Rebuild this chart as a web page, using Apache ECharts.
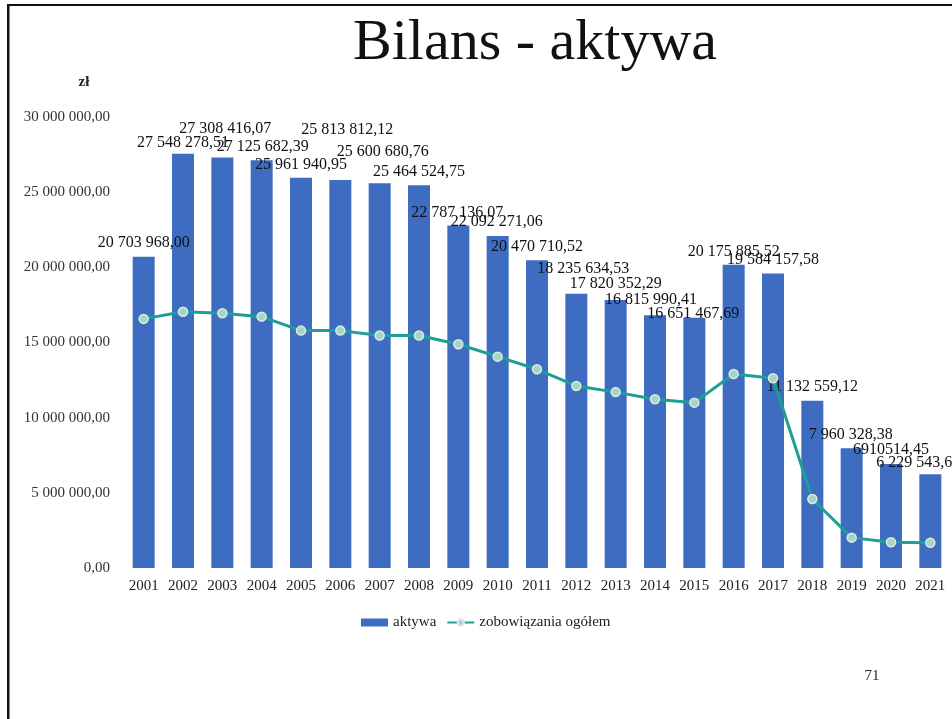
<!DOCTYPE html>
<html>
<head>
<meta charset="utf-8">
<script src="https://cdn.jsdelivr.net/npm/echarts@6/dist/echarts.min.js"></script>
<style>
  * { margin: 0; padding: 0; }
  body { background: #fff; }
  #chart { width: 952px; height: 719px; }
</style>
</head>
<body>
<div id="chart"></div>
<script>
// lata
const years = ['2001', '2002', '2003', '2004', '2005', '2006', '2007', '2008', '2009', '2010', '2011',
  '2012', '2013', '2014', '2015', '2016', '2017', '2018', '2019', '2020', '2021'];
// aktywa (zł)
const aktywa = [20703968.00, 27548278.51, 27308416.07, 27125682.39, 25961940.95, 25813812.12,
  25600680.76, 25464524.75, 22787136.07, 22092271.06, 20470710.52, 18235634.53, 17820352.29,
  16815990.41, 16651467.69, 20175885.52, 19584157.58, 11132559.12, 7960328.38, 6910514.45, 6229543.66];
// zobowiązania ogółem
const zobowiazania = [16570000, 17050000, 16950000, 16720000, 15790000, 15790000, 15460000, 15460000,
  14880000, 14060000, 13220000, 12110000, 11700000, 11220000, 11000000, 12900000, 12620000,
  4590000, 2020000, 1710000, 1680000];
// podziałka osi Y
const yTicks = [0, 5000000, 10000000, 15000000, 20000000, 25000000, 30000000];

// przesunięcia etykiet (jak na slajdzie)
const labelNudge = [[0, -1], [0, 2], [3, -16], [1, 0], [0, 0], [7, -37], [3, -18], [0, 0], [-1, 0],
  [-1, -1], [0, 0], [7, -12], [0, -3], [-4, -2], [-1, 9], [0, 0], [0, -1], [0, -1], [-1, -1], [0, -1], [-12, 1]];

const FONT = '"Liberation Serif", "Times New Roman", serif';

function fmt(v, group) {
  let s = v.toFixed(2).split('.');
  let int = s[0];
  if (group) int = int.replace(/\B(?=(\d{3})+(?!\d))/g, ' ');
  return int + ',' + s[1];
}

var chart = echarts.init(document.getElementById('chart'));

let barData = aktywa.map((v, i) => ({
  value: v,
  label: {
    offset: labelNudge[i],
    formatter: () => fmt(v, years[i] !== '2020')
  }
}));

chart.setOption({
  backgroundColor: '#fff',
  animation: false,
  title: {
    text: 'Bilans - aktywa',
    left: 348,
    top: 10,
    textStyle: { fontFamily: FONT, fontSize: 58, fontWeight: 'normal', color: '#111' }
  },
  graphic: [
    { type: 'rect', shape: { x: 7, y: 4, width: 950, height: 2 }, style: { fill: '#111' } },
    { type: 'rect', shape: { x: 7, y: 4, width: 2.5, height: 720 }, style: { fill: '#111' } },
    { type: 'text', style: { x: 84, y: 82, text: 'zł', textAlign: 'center', textVerticalAlign: 'middle',
        font: 'bold 15px ' + FONT, fill: '#222' } },
    { type: 'text', style: { x: 872, y: 676, text: '71', textAlign: 'center', textVerticalAlign: 'middle',
        font: '15px ' + FONT, fill: '#222' } }
  ],
  legend: {
    left: 356,
    top: 610,
    itemGap: 10,
    itemWidth: 27,
    itemHeight: 8,
    textStyle: { fontFamily: FONT, fontSize: 15, color: '#222' },
    data: [
      { name: 'aktywa', icon: 'rect' },
      { name: 'zobowiązania ogółem' }
    ]
  },
  grid: { left: 124, right: 2, top: 117, bottom: 151 },
  xAxis: {
    type: 'category',
    data: years,
    axisLine: { show: false },
    axisTick: { show: false },
    axisLabel: { fontFamily: FONT, fontSize: 15, color: '#222', margin: 11, interval: 0 }
  },
  yAxis: {
    type: 'value',
    min: yTicks[0],
    max: yTicks[yTicks.length - 1],
    interval: yTicks[1] - yTicks[0],
    splitLine: { show: false },
    axisLine: { show: false },
    axisTick: { show: false },
    axisLabel: { fontFamily: FONT, fontSize: 15, color: '#333', margin: 14, formatter: v => fmt(v, true) }
  },
  series: [
    {
      name: 'aktywa',
      type: 'bar',
      barWidth: 22,
      data: barData,
      itemStyle: { color: '#3d6cc0' },
      label: {
        show: true,
        position: 'top',
        fontFamily: FONT,
        fontSize: 16,
        color: '#111'
      },
      z: 2
    },
    {
      name: 'zobowiązania ogółem',
      type: 'line',
      data: zobowiazania,
      symbol: 'circle',
      symbolSize: 9,
      lineStyle: { color: '#1e9e98', width: 3 },
      itemStyle: { color: '#a8d4c6', borderColor: '#d6ece4', borderWidth: 1.5 },
      z: 3
    }
  ]
});
</script>
</body>
</html>
